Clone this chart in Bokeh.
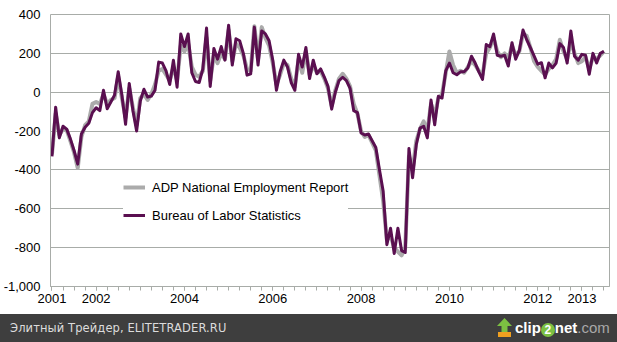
from bokeh.plotting import figure
from bokeh.models import Range1d, FixedTicker, NumeralTickFormatter, Legend, LegendItem, ColumnDataSource, Div
from bokeh.layouts import column
from bokeh.embed import file_html
from bokeh.resources import INLINE

# ---- data (monthly, Jan 2001 .. Jul 2013), thousands of jobs ----
adp = [-320, -110, -220, -190, -195, -250, -310, -390, -230, -170,
       -150, -60, -50, -60, -10, -60, -40, -30, 80, -30,
       -130, 20, -80, -170, -30, -10, -40, -10, 40, 110,
       120, 90, 60, 130, 60, 240, 210, 250, 130, 90,
       80, 110, 280, 60, 190, 150, 200, 170, 320, 160,
       250, 230, 190, 120, 110, 340, 170, 335, 280, 240,
       150, 40, 90, 150, 140, 70, 30, 170, 100, 210,
       90, 140, 100, 110, 70, 20, -70, 10, 70, 95,
       70, 30, -60, -110, -200, -230, -220, -260, -300, -430,
       -560, -760, -740, -800, -820, -840, -800, -330, -400, -250,
       -190, -150, -200, -60, -120, -30, -10, 100, 210, 140,
       100, 110, 100, 130, 160, 140, 110, 90, 200, 230,
       280, 210, 180, 200, 170, 240, 190, 210, 300, 290,
       230, 160, 130, 110, 90, 120, 140, 170, 270, 210,
       170, 260, 200, 150, 160, 180, 120, 180, 170, 190,
       210]
bls = [-330, -77, -235, -175, -190, -240, -300, -370, -215, -180,
       -160, -105, -80, -95, 10, -85, -50, -15, 105, -15,
       -165, 45, -95, -200, -45, 15, -25, -20, 10, 155,
       150, 110, 40, 165, 26, 300, 235, 300, 100, 55,
       50, 120, 330, 30, 225, 170, 235, 165, 345, 140,
       275, 265, 200, 88, 95, 335, 140, 315, 300, 265,
       165, 10, 105, 165, 130, 50, 10, 195, 130, 230,
       70, 165, 95, 120, 78, 30, -87, 0, 60, 77,
       60, 20, -95, -105, -210, -220, -215, -250, -285, -400,
       -510, -785, -700, -830, -700, -815, -825, -290, -440, -270,
       -185, -175, -235, -40, -168, -21, -30, 110, 150, 100,
       90, 105, 105, 125, 185, 150, 105, 66, 245, 235,
       300, 190, 185, 190, 135, 255, 170, 215, 320, 270,
       230, 187, 144, 152, 74, 150, 125, 150, 250, 230,
       150, 315, 185, 165, 195, 190, 92, 200, 150, 200,
       210]
months = list(range(len(bls)))
tick_months = [0, 12, 36, 60, 84, 108, 132, 144]
tick_labels = ["2001", "2002", "2004", "2006", "2008", "2010", "2012", "2013"]
y_ticks = [-1000, -800, -600, -400, -200, 0, 200, 400]
banner_text = "Элитный Трейдер, ELITETRADER.RU"

src = ColumnDataSource(dict(m=months, adp=adp, bls=bls))

FONT = "Liberation Sans"
GRID = "#a8aca8"

p = figure(width=617, height=314, output_backend="svg", toolbar_location=None,
           x_range=Range1d(-0.4, 151.5), y_range=Range1d(-1000, 400),
           min_border_left=47, min_border_right=8, min_border_top=14, min_border_bottom=28)
p.background_fill_color = "white"
p.border_fill_color = "white"
p.outline_line_color = GRID
p.outline_line_width = 1

p.xgrid.visible = False
p.ygrid.ticker = FixedTicker(ticks=y_ticks)
p.ygrid.grid_line_color = GRID
p.ygrid.grid_line_width = 1

xa = p.xaxis[0]
xa.ticker = FixedTicker(ticks=tick_months, minor_ticks=list(range(0, 152, 3)))
xa.major_label_overrides = {m: l for m, l in zip(tick_months, tick_labels)}
xa.axis_line_color = GRID
xa.major_tick_line_color = GRID
xa.minor_tick_line_color = GRID
xa.major_tick_in = 0
xa.major_tick_out = 4
xa.minor_tick_in = 0
xa.minor_tick_out = 4
xa.major_label_standoff = 3
xa.major_label_text_font = FONT
xa.major_label_text_font_size = "13px"
xa.major_label_text_color = "black"

ya = p.yaxis[0]
ya.ticker = FixedTicker(ticks=y_ticks)
ya.formatter = NumeralTickFormatter(format="0,0")
ya.axis_line_color = GRID
ya.axis_line_dash = "1 1"
ya.major_tick_line_color = None
ya.minor_tick_line_color = None
ya.major_tick_in = 0
ya.major_tick_out = 0
ya.major_label_standoff = 10
ya.major_label_text_font = FONT
ya.major_label_text_font_size = "13px"
ya.major_label_text_color = "black"

r_adp = p.line("m", "adp", source=src, line_color="#ababab", line_width=4, line_join="round")
r_bls = p.line("m", "bls", source=src, line_color="#5a0f50", line_width=3, line_join="round")

legend = Legend(items=[LegendItem(label="ADP National Employment Report", renderers=[r_adp]),
                       LegendItem(label="Bureau of Labor Statistics", renderers=[r_bls])],
                location=(73, 61), orientation="vertical")
legend.label_text_font = FONT
legend.label_text_font_size = "13px"
legend.label_text_color = "black"
legend.glyph_width = 22
legend.glyph_height = 20
legend.label_height = 20
legend.label_standoff = 7
legend.spacing = 8
legend.padding = 4
legend.margin = 0
legend.border_line_color = None
legend.background_fill_color = "white"
legend.background_fill_alpha = 1.0
p.add_layout(legend)

# ---- bottom banner (HTML) ----
html = f'''<div style="position:relative;width:617px;height:28px;background:#3e3e3e;overflow:hidden;margin:0;">
<span style="position:absolute;left:10px;top:6px;font-family:'DejaVu Sans';font-size:11.5px;color:#dcdcdc;white-space:nowrap;letter-spacing:0.1px;">{banner_text}</span>
<svg style="position:absolute;left:497px;top:4px" width="16" height="20"><polygon points="7.5,0 0,8 4.5,8 4.5,14 10.5,14 10.5,8 15,8" fill="#7cc142"/><rect x="1" y="14" width="13" height="5" fill="#f0a020"/></svg>
<span style="position:absolute;left:515px;top:4px;font-family:'Liberation Sans';font-weight:bold;font-size:15px;line-height:20px;color:#ffffff;white-space:nowrap;">clip<span style="display:inline-block;width:14px;height:14px;border-radius:7px;background:#7cc142;text-align:center;line-height:14px;font-size:12px;vertical-align:-1px;">2</span>net<span style="color:#a8a8a8;font-weight:normal;">.com</span></span>
</div>'''
b = Div(text=html, width=617, height=28, margin=(0, 0, 0, 0))

layout = column(p, b, spacing=0)
open("out.html", "w").write(file_html(layout, INLINE))
